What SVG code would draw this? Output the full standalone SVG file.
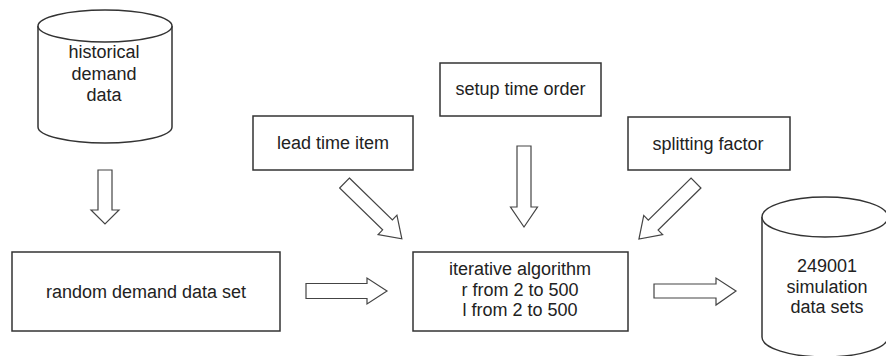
<svg xmlns="http://www.w3.org/2000/svg" width="886" height="356" viewBox="0 0 886 356">
<style>
.box{fill:#fff;stroke:#333;stroke-width:1.5}
.cyl{fill:#fff;stroke:#333;stroke-width:1.5}
.arr{fill:#fff;stroke:#444;stroke-width:1.2;stroke-linejoin:miter}
text{font-family:"Liberation Sans",Arial,sans-serif;font-size:18px;fill:#222;text-anchor:middle}
</style>
<rect width="886" height="356" fill="#fff"/>
<g id="historical">
<path class="cyl" d="M38,26 V127 A67,16 0 0 0 172,127 V26"/>
<ellipse class="cyl" cx="105" cy="26" rx="67" ry="16"/>
<text x="104" y="58">historical</text>
<text x="104" y="80">demand</text>
<text x="104" y="101">data</text>
</g>
<g id="random">
<rect class="box" x="12" y="252" width="268" height="79"/>
<text x="146" y="298">random demand data set</text>
</g>
<g id="leadtime">
<rect class="box" x="253" y="116" width="160" height="54"/>
<text x="333" y="149">lead time item</text>
</g>
<g id="setup">
<rect class="box" x="440" y="63" width="161" height="53"/>
<text x="520.5" y="95">setup time order</text>
</g>
<g id="splitting">
<rect class="box" x="628" y="117" width="162" height="53"/>
<text x="708" y="150">splitting factor</text>
</g>
<g id="iterative">
<rect class="box" x="413" y="252" width="215" height="79"/>
<text x="520" y="275">iterative algorithm</text>
<text x="520" y="296">r from 2 to 500</text>
<text x="520" y="316">l from 2 to 500</text>
</g>
<g id="simulation">
<path class="cyl" d="M762,217 V337 A63,20 0 0 0 888,337 V217"/>
<ellipse class="cyl" cx="825" cy="217" rx="63" ry="20"/>
<text x="827" y="272">249001</text>
<text x="827" y="293">simulation</text>
<text x="827" y="313">data sets</text>
</g>
<g id="connectors">
<polygon class="arr" points="98,170 112,170 112,210 119,210 105,224 91,210 98,210"/>
<polygon class="arr" points="306,283.5 367,283.5 367,278 387,291 367,304 367,298.5 306,298.5"/>
<polygon class="arr" points="654,284 716,284 716,278 736,291 716,305 716,298 654,298"/>
<polygon class="arr" points="517,146 531,146 531,207 537.5,207 524,227 510.5,207 517,207"/>
<polygon class="arr" transform="translate(344.5,183) rotate(44.2)" points="0,-7 60,-7 60,-13.5 80,0 60,13.5 60,7 0,7"/>
<polygon class="arr" transform="translate(696,183) rotate(135.5)" points="0,-7 60,-7 60,-13.5 80,0 60,13.5 60,7 0,7"/>
</g>
</svg>
